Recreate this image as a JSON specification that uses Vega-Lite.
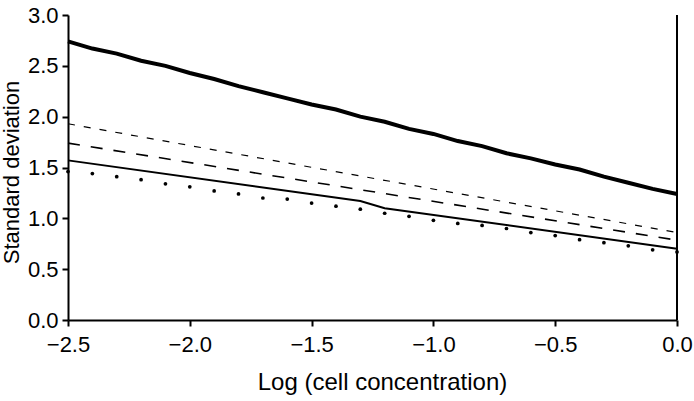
{
  "$schema": "https://vega.github.io/schema/vega-lite/v6.json",
  "width": 609,
  "height": 305,
  "autosize": "none",
  "padding": {"left": 68, "top": 15, "right": 17, "bottom": 81},
  "background": "white",
  "config": {
    "view": {"stroke": null},
    "font": "Liberation Sans",
    "axis": {"grid": false, "domainColor": "black", "domainWidth": 2, "tickColor": "black", "tickWidth": 2, "tickSize": 6, "labelColor": "black", "titleColor": "black", "labelFontSize": 22, "titleFontSize": 22, "titleFontWeight": "normal", "labelFont": "Liberation Sans", "titleFont": "Liberation Sans", "labelFlush": false, "labelOverlap": false}
  },
  "datasets": {
    "thick": [
      {"x": -2.5, "y": 2.74}, {"x": -2.4, "y": 2.67}, {"x": -2.3, "y": 2.62}, {"x": -2.2, "y": 2.55},
      {"x": -2.1, "y": 2.50}, {"x": -2.0, "y": 2.43}, {"x": -1.9, "y": 2.37}, {"x": -1.8, "y": 2.30},
      {"x": -1.7, "y": 2.24}, {"x": -1.6, "y": 2.18}, {"x": -1.5, "y": 2.12}, {"x": -1.4, "y": 2.07},
      {"x": -1.3, "y": 2.00}, {"x": -1.2, "y": 1.95}, {"x": -1.1, "y": 1.88}, {"x": -1.0, "y": 1.83},
      {"x": -0.9, "y": 1.76}, {"x": -0.8, "y": 1.71}, {"x": -0.7, "y": 1.64}, {"x": -0.6, "y": 1.59},
      {"x": -0.5, "y": 1.53}, {"x": -0.4, "y": 1.48}, {"x": -0.3, "y": 1.41}, {"x": -0.2, "y": 1.35},
      {"x": -0.1, "y": 1.29}, {"x": 0.0, "y": 1.24}
    ],
    "shortdash": [{"x": -2.5, "y": 1.93}, {"x": 0.0, "y": 0.86}],
    "longdash": [{"x": -2.5, "y": 1.74}, {"x": 0.0, "y": 0.785}],
    "solid": [{"x": -2.5, "y": 1.57}, {"x": -1.3, "y": 1.17}, {"x": -1.2, "y": 1.10}, {"x": 0.0, "y": 0.70}],
    "dots": [
      {"x": -2.5, "y": 1.46}, {"x": -2.4, "y": 1.44}, {"x": -2.3, "y": 1.41}, {"x": -2.2, "y": 1.38},
      {"x": -2.1, "y": 1.34}, {"x": -2.0, "y": 1.31}, {"x": -1.9, "y": 1.27}, {"x": -1.8, "y": 1.24},
      {"x": -1.7, "y": 1.20}, {"x": -1.6, "y": 1.19}, {"x": -1.5, "y": 1.15}, {"x": -1.4, "y": 1.12},
      {"x": -1.3, "y": 1.09}, {"x": -1.2, "y": 1.05}, {"x": -1.1, "y": 1.02}, {"x": -1.0, "y": 0.98},
      {"x": -0.9, "y": 0.95}, {"x": -0.8, "y": 0.93}, {"x": -0.7, "y": 0.90}, {"x": -0.6, "y": 0.86},
      {"x": -0.5, "y": 0.83}, {"x": -0.4, "y": 0.79}, {"x": -0.3, "y": 0.76}, {"x": -0.2, "y": 0.73},
      {"x": -0.1, "y": 0.69}, {"x": 0.0, "y": 0.67}
    ]
  },
  "layer": [
    {
      "data": {"name": "thick"},
      "mark": {"type": "line", "color": "black", "strokeWidth": 4, "clip": false},
      "encoding": {
        "x": {"field": "x", "type": "quantitative", "scale": {"domain": [-2.5, 0], "nice": false, "zero": false},
          "axis": {"values": [-2.5, -2, -1.5, -1, -0.5, 0], "labelExpr": "replace(format(datum.value, '.1f'), '-', '–')", "title": "Log (cell concentration)", "titleFontSize": 24, "titleX": 314, "labelPadding": 8, "titlePadding": 15}},
        "y": {"field": "y", "type": "quantitative", "scale": {"domain": [0, 3], "nice": false},
          "axis": {"values": [0, 0.5, 1, 1.5, 2, 2.5, 3], "format": ".1f", "title": "Standard deviation", "titleY": 157, "labelPadding": 4, "titlePadding": 4}}
      }
    },
    {
      "data": {"name": "shortdash"},
      "mark": {"type": "line", "color": "black", "strokeWidth": 1.2, "strokeDash": [7, 9]},
      "encoding": {"x": {"field": "x", "type": "quantitative"}, "y": {"field": "y", "type": "quantitative"}}
    },
    {
      "data": {"name": "longdash"},
      "mark": {"type": "line", "color": "black", "strokeWidth": 1.6, "strokeDash": [12, 11]},
      "encoding": {"x": {"field": "x", "type": "quantitative"}, "y": {"field": "y", "type": "quantitative"}}
    },
    {
      "data": {"name": "solid"},
      "mark": {"type": "line", "color": "black", "strokeWidth": 2},
      "encoding": {"x": {"field": "x", "type": "quantitative"}, "y": {"field": "y", "type": "quantitative"}}
    },
    {
      "data": {"name": "dots"},
      "mark": {"type": "point", "filled": true, "color": "black", "opacity": 1, "size": 14, "clip": false},
      "encoding": {"x": {"field": "x", "type": "quantitative"}, "y": {"field": "y", "type": "quantitative"}}
    },
    {
      "data": {"values": [{}]},
      "mark": {"type": "rule", "color": "black", "strokeWidth": 2},
      "encoding": {"x": {"datum": 0}, "y": {"datum": 0}, "y2": {"datum": 3}}
    }
  ]
}
